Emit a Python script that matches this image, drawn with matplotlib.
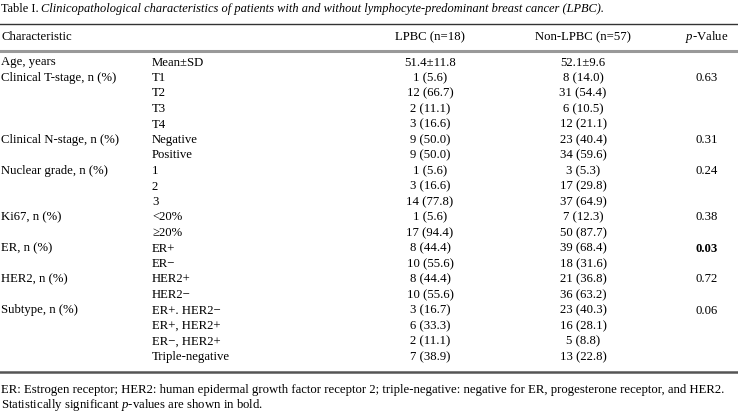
import matplotlib.pyplot as plt

# Table data
characteristics = ["Age, years", "Clinical T-stage, n (%)", "", "", "",
                   "Clinical N-stage, n (%)", "", "Nuclear grade, n (%)", "", "",
                   "Ki67, n (%)", "", "ER, n (%)", "", "HER2, n (%)", "",
                   "Subtype, n (%)", "", "", ""]
subgroups = ["Mean±SD", "T1", "T2", "T3", "T4", "Negative", "Positive",
             "1", "2", "3", "<20%", "≥20%", "ER+", "ER−", "HER2+", "HER2−",
             "ER+. HER2−", "ER+, HER2+", "ER−, HER2+", "Triple-negative"]
lpbc = ["51.4±11.8", "1 (5.6)", "12 (66.7)", "2 (11.1)", "3 (16.6)",
        "9 (50.0)", "9 (50.0)", "1 (5.6)", "3 (16.6)", "14 (77.8)",
        "1 (5.6)", "17 (94.4)", "8 (44.4)", "10 (55.6)", "8 (44.4)",
        "10 (55.6)", "3 (16.7)", "6 (33.3)", "2 (11.1)", "7 (38.9)"]
non_lpbc = ["52.1±9.6", "8 (14.0)", "31 (54.4)", "6 (10.5)", "12 (21.1)",
            "23 (40.4)", "34 (59.6)", "3 (5.3)", "17 (29.8)", "37 (64.9)",
            "7 (12.3)", "50 (87.7)", "39 (68.4)", "18 (31.6)", "21 (36.8)",
            "36 (63.2)", "23 (40.3)", "16 (28.1)", "5 (8.8)", "13 (22.8)"]
p_values = ["", "0.63", "", "", "", "0.31", "", "0.24", "", "",
            "0.38", "", "0.03", "", "0.72", "", "0.06", "", "", ""]
bold_p = ["0.03"]

plt.rcParams['font.family'] = ['Liberation Serif', 'DejaVu Serif']
plt.rcParams['mathtext.fontset'] = 'custom'
plt.rcParams['mathtext.rm'] = 'Liberation Serif'
plt.rcParams['mathtext.it'] = 'Liberation Serif:italic'
fs = 9.2

fig = plt.figure(figsize=(7.38, 4.16), dpi=100)
ax = fig.add_axes([0, 0, 1, 1])
ax.set_xlim(0, 738)
ax.set_ylim(416, 0)
ax.axis('off')

ax.text(1, 9, "Table I.", fontsize=8.9, va='center', ha='left')
ax.text(41, 9, "Clinicopathological characteristics of patients with and without "
        "lymphocyte-predominant breast cancer (LPBC).",
        fontsize=8.9, va='center', ha='left', style='italic')

ax.axhline(23.5, color='#333333', lw=1.0)
ax.axhline(51, color='#999999', lw=2.2)

ax.text(1, 37, "Characteristic", fontsize=fs, va='center', ha='left')
ax.text(430, 37, "LPBC (n=18)", fontsize=fs, va='center', ha='center')
ax.text(583, 37, "Non-LPBC (n=57)", fontsize=fs, va='center', ha='center')
ax.text(707, 37, "$\\it{p}$-Value", fontsize=fs, va='center', ha='center')

row0, dy = 62.5, (357 - 62.5) / (len(subgroups) - 1)
for i in range(len(subgroups)):
    y = row0 + i * dy
    ax.text(1, y, characteristics[i], fontsize=fs, va='center', ha='left')
    ax.text(152, y, subgroups[i], fontsize=fs, va='center', ha='left')
    ax.text(430, y, lpbc[i], fontsize=fs, va='center', ha='center')
    ax.text(583, y, non_lpbc[i], fontsize=fs, va='center', ha='center')
    if p_values[i]:
        ax.text(707, y, p_values[i], fontsize=fs, va='center', ha='center',
                weight='bold' if p_values[i] in bold_p else 'normal')

ax.axhline(372, color='#555555', lw=1.8)

ax.text(1, 390, "ER: Estrogen receptor; HER2: human epidermal growth factor receptor 2; "
        "triple-negative: negative for ER, progesterone receptor, and HER2.",
        fontsize=fs, va='center', ha='left')
ax.text(1, 405, "Statistically significant $\\it{p}$-values are shown in bold.",
        fontsize=fs, va='center', ha='left')

fig.savefig("out.png", dpi=100)
